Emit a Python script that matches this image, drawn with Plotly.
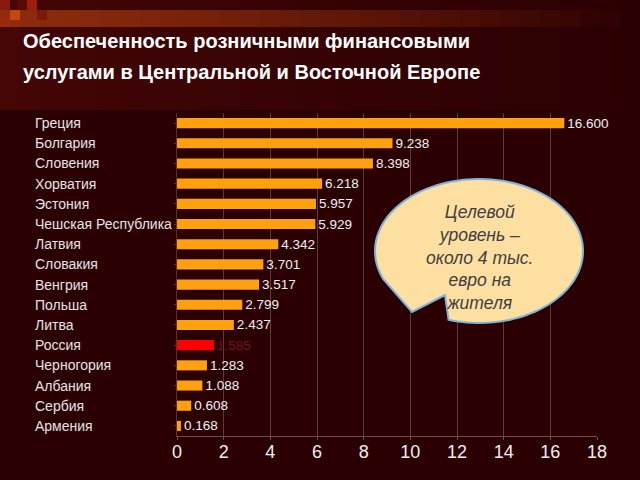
import plotly.graph_objects as go
import numpy as np

categories = ["Греция", "Болгария", "Словения", "Хорватия", "Эстония", "Чешская Республика",
              "Латвия", "Словакия", "Венгрия", "Польша", "Литва", "Россия",
              "Черногория", "Албания", "Сербия", "Армения"]
values = [16.600, 9.238, 8.398, 6.218, 5.957, 5.929, 4.342, 3.701, 3.517, 2.799,
          2.437, 1.585, 1.283, 1.088, 0.608, 0.168]
highlight = "Россия"
x_ticks = [0, 2, 4, 6, 8, 10, 12, 14, 16, 18]
title_lines = ["Обеспеченность розничными финансовыми",
               "услугами в Центральной и Восточной Европе"]
bubble_text = "Целевой<br>уровень –<br>около 4 тыс.<br>евро на<br>жителя"

W, H = 640, 480
L, R, T, B = 177, 43, 113, 44
PW, PH = W - L - R, H - T - B
BG = "#2b0003"
FONT = "Liberation Sans, Arial, sans-serif"


def px(x):
    return (x - L) / PW


def py(y):
    return (H - B - y) / PH


bar_colors = ["#ff0000" if c == highlight else "#ffa00e" for c in categories]
text_colors = ["#6e1414" if c == highlight else "#f0f0f0" for c in categories]

fig = go.Figure()
fig.add_trace(go.Bar(
    x=values, y=categories, orientation="h",
    marker=dict(color=bar_colors, line=dict(width=0)),
    texttemplate="%{x:.3f}", textposition="outside", constraintext="none",
    textfont=dict(color=text_colors, size=13.5, family=FONT),
    cliponaxis=False, width=0.5,
))

shapes = []


def lerp(c1, c2, t):
    return "#%02x%02x%02x" % tuple(int(round(a + (b - a) * t)) for a, b in zip(c1, c2))


bg_rgb = (0x2b, 0x00, 0x03)
n = 32
for i in range(n):
    x0, x1 = i * W / n, (i + 1) * W / n + 0.5
    t = i / (n - 1)
    shapes.append(dict(type="rect", xref="paper", yref="paper", x0=px(x0), x1=px(x1),
                       y0=py(0), y1=py(110), line=dict(width=0), layer="below",
                       fillcolor=lerp((0x45, 0x06, 0x06), bg_rgb, t ** 0.8)))
    shapes.append(dict(type="rect", xref="paper", yref="paper", x0=px(x0), x1=px(x1),
                       y0=py(10), y1=py(27), line=dict(width=0), layer="below",
                       fillcolor=lerp((0x8e, 0x2c, 0x0c), bg_rgb, t ** 1.2)))
squares = [(0, 0, "#8a1a0c"), (10, 10, "#c4480e"), (27, 0, "#a01c0c"), (0, 17, "#9a2a10"),
           (17, 0, "#5a0a06"), (37, 10, "#7a1a0a")]
for sx, sy, col in squares:
    shapes.append(dict(type="rect", xref="paper", yref="paper", x0=px(sx), x1=px(sx + 10),
                       y0=py(sy), y1=py(sy + 10), line=dict(width=0), layer="below",
                       fillcolor=col))

# speech bubble
cx, cy, rx, ry = 479, 251, 104, 72
pts = []
for th in np.linspace(np.radians(107), np.radians(-203), 120):
    pts.append((cx + rx * np.cos(th), cy + ry * np.sin(th)))
pts.append((412, 312))
pts.append((445, 295))
path = "M " + " L ".join(f"{px(x):.5f},{py(y):.5f}" for x, y in pts) + " Z"
shapes.append(dict(type="path", xref="paper", yref="paper", path=path,
                   fillcolor="#fedfa2", line=dict(color="#7fb2d8", width=2), layer="above"))

annotations = []
for c in categories:
    annotations.append(dict(xref="paper", yref="y", x=px(33), y=c, text=c, showarrow=False,
                            xanchor="left", yanchor="middle",
                            font=dict(size=14, color="#e4e4e4", family=FONT)))
for line, ypix in zip(title_lines, [41, 72]):
    annotations.append(dict(xref="paper", yref="paper", x=px(21), y=py(ypix), text=f"<b>{line}</b>",
                            showarrow=False, xanchor="left", yanchor="middle", align="left",
                            font=dict(size=20, color="#ffffff", family=FONT)))
annotations.append(dict(xref="paper", yref="paper", x=px(479), y=py(257), text=f"<i>{bubble_text}</i>",
                        showarrow=False, xanchor="center", yanchor="middle", align="center",
                        font=dict(size=17.5, color="#404040", family=FONT)))

fig.update_layout(
    width=W, height=H,
    margin=dict(l=L, r=R, t=T, b=B, pad=0),
    paper_bgcolor=BG, plot_bgcolor=BG,
    showlegend=False,
    bargap=0.5,
    shapes=shapes,
    annotations=annotations,
    xaxis=dict(range=[0, 18], tickvals=x_ticks, ticktext=[str(v) for v in x_ticks],
               showgrid=True, gridcolor="rgba(200,170,170,0.33)", gridwidth=1,
               zeroline=False, showline=True, linecolor="rgba(200,170,170,0.45)",
               ticks="outside", ticklen=3, tickcolor="rgba(200,170,170,0.45)",
               ticklabelstandoff=-4,
               tickfont=dict(size=18, color="#eeeeee", family=FONT), fixedrange=True),
    yaxis=dict(autorange="reversed", showticklabels=False, showgrid=False, zeroline=False,
               showline=True, linecolor="rgba(120,80,80,0.6)", ticks="outside", ticklen=2,
               tickcolor="rgba(120,80,80,0.6)", fixedrange=True),
    font=dict(family=FONT),
)

fig.write_html("out.html", config={"displayModeBar": False},
               post_script="document.body.style.margin='0';document.body.style.padding='0';"
                           "document.body.style.background='%s';" % BG)
